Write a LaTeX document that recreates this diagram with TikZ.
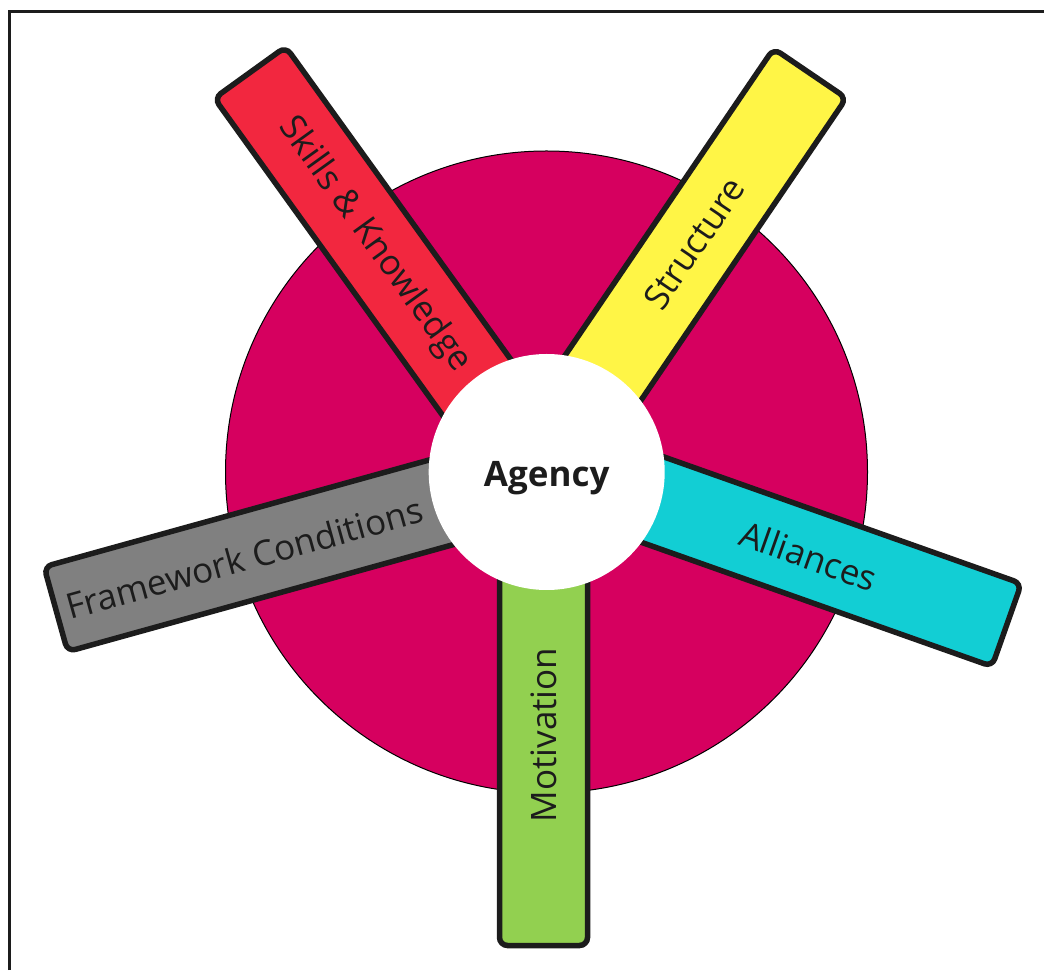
\documentclass[tikz,border=0pt]{standalone}
\usepackage{fontspec}
\setmainfont{Open Sans}
\definecolor{agmagenta}{HTML}{D6005F}
\definecolor{agred}{HTML}{F2273F}
\definecolor{agyellow}{HTML}{FFF546}
\definecolor{agcyan}{HTML}{12CED4}
\definecolor{aggray}{HTML}{808080}
\definecolor{aggreen}{HTML}{92D050}
\definecolor{agline}{HTML}{1C1C1C}
\tikzset{
  frame/.style={agline, line width=3.5pt},
  disc/.style={fill=agmagenta, draw=black, line width=1pt},
  bar/.style={draw=agline, line width=5.5pt, rounded corners=8pt},
  hub/.style={circle, fill=white, minimum size=236pt, inner sep=0pt},
  lbl/.style={text=agline, inner sep=0pt, font=\fontsize{35}{42}\selectfont},
  % bar shape in its own frame: outer end at the origin, pointing along +x
  barshape/.pic={\draw[bar, fill=#1] (-480,-44) -- (0,-44) -- (0,44) -- (-480,44) -- cycle;},
}

\begin{document}
\begin{tikzpicture}[x=1pt, y=1pt]
  \useasboundingbox (0,0) rectangle (1044,970);
  \draw[frame] (9.5,0) -- (9.5,958.5) -- (1044,958.5);
  % big disc behind everything
  \draw[disc] (546.5,498) circle[radius=321pt];
  % the five bars, outer end and direction
  \pic[shift={(250,897.5)}, rotate=125.75] {barshape=agred};
  \pic[shift={(810,896.7)}, rotate=55.8] {barshape=agyellow};
  \pic[shift={(1006.7,345)}, rotate=-19.5] {barshape=agcyan};
  \pic[shift={(543.5,24.5)}, rotate=-90] {barshape=aggreen};
  \pic[shift={(55.8,360.8)}, rotate=195.5] {barshape=aggray};
  % white centre covers the inner ends
  \node[hub] (hub) at (546.7,498) {};
  \node[lbl, font=\fontsize{35}{42}\selectfont\bfseries] (agency) at ([yshift=-6pt]hub.center) {Agency};
  % bar labels
  \node[lbl, rotate=-54.25] (skills) at (374.4,725) {Skills \& Knowledge};
  \node[lbl, rotate=55.8] (structure) at (694.2,726.7) {Structure};
  \node[lbl, rotate=-19.5] (alliances) at (808.7,414) {Alliances};
  \node[lbl, rotate=90] (motivation) at (543.5,235) {Motivation};
  \node[lbl, rotate=15.5] (framework) at (244.3,412) {Framework Conditions};
\end{tikzpicture}
\end{document}
